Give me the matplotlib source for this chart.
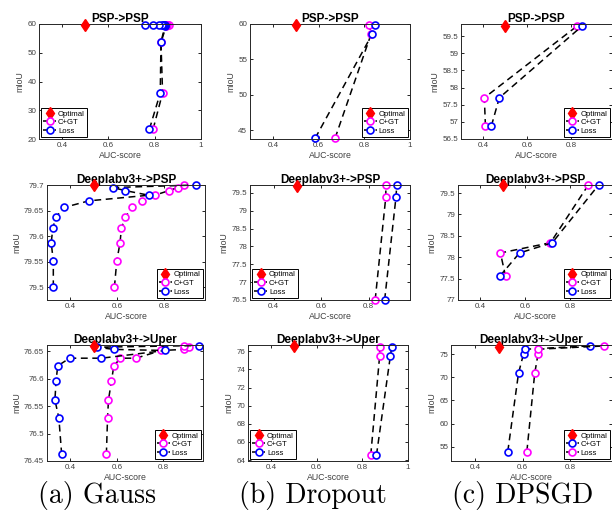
"""
AUC-score vs mIoU trade-off grid (Gauss / Dropout / DPSGD)
"""

import matplotlib.pyplot as plt
from matplotlib.ticker import FormatStrFormatter, MultipleLocator

# ---- data --------------------------------------------------------------
optimal_auc = 0.5

# Gauss, PSP->PSP
g_psp_cgt_auc = [0.793, 0.834, 0.827, 0.850, 0.855, 0.858, 0.860, 0.855, 0.850, 0.848, 0.845]
g_psp_cgt_miou = [23.4, 36.0, 53.6, 59.4, 59.75, 59.8, 59.8, 59.8, 59.8, 59.8, 59.8]
g_psp_loss_auc = [0.777, 0.824, 0.827, 0.844, 0.845, 0.840, 0.836, 0.830, 0.817, 0.793, 0.760]
g_psp_loss_miou = [23.4, 36.0, 53.6, 59.4, 59.75, 59.78, 59.8, 59.8, 59.8, 59.8, 59.8]
g_psp_opt = 59.8

# Gauss, Deeplabv3+->PSP
g_dpsp_cgt_auc = [0.588, 0.598, 0.612, 0.618, 0.635, 0.661, 0.704, 0.760, 0.821, 0.859, 0.885]
g_dpsp_cgt_miou = [79.500, 79.551, 79.587, 79.616, 79.637, 79.656, 79.669, 79.680, 79.689, 79.695, 79.700]
g_dpsp_loss_auc = [0.327, 0.327, 0.318, 0.325, 0.338, 0.372, 0.479, 0.735, 0.635, 0.580, 0.937]
g_dpsp_loss_miou = [79.500, 79.551, 79.587, 79.616, 79.637, 79.656, 79.669, 79.680, 79.689, 79.695, 79.700]
g_dpsp_opt = 79.7

# Gauss, Deeplabv3+->Uper
g_dup_cgt_auc = [0.555, 0.560, 0.564, 0.577, 0.587, 0.615, 0.682, 0.791, 0.890, 0.908, 0.888]
g_dup_cgt_miou = [76.462, 76.528, 76.561, 76.596, 76.623, 76.637, 76.637, 76.651, 76.653, 76.657, 76.660]
g_dup_loss_auc = [0.363, 0.351, 0.334, 0.339, 0.346, 0.397, 0.534, 0.807, 0.588, 0.514, 0.951]
g_dup_loss_miou = [76.462, 76.528, 76.561, 76.596, 76.623, 76.637, 76.637, 76.651, 76.653, 76.657, 76.660]
g_dup_opt = 76.66

# Dropout
d_psp_cgt_auc = [0.672, 0.830, 0.822]
d_psp_cgt_miou = [43.9, 58.6, 59.8]
d_psp_loss_auc = [0.585, 0.835, 0.845]
d_psp_loss_miou = [43.9, 58.6, 59.8]
d_psp_opt = 59.8

d_dpsp_cgt_auc = [0.828, 0.873, 0.873]
d_dpsp_cgt_miou = [76.5, 79.39, 79.71]
d_dpsp_loss_auc = [0.868, 0.916, 0.919]
d_dpsp_loss_miou = [76.5, 79.39, 79.71]
d_dpsp_opt = 79.69

d_dup_cgt_auc = [0.837, 0.876, 0.876]
d_dup_cgt_miou = [64.55, 75.52, 76.48]
d_dup_loss_auc = [0.862, 0.923, 0.929]
d_dup_loss_miou = [64.55, 75.52, 76.48]
d_dup_opt = 76.55

# DPSGD
p_psp_cgt_auc = [0.411, 0.406, 0.827]
p_psp_cgt_miou = [56.88, 57.70, 59.79]
p_psp_loss_auc = [0.438, 0.474, 0.850]
p_psp_loss_miou = [56.88, 57.70, 59.79]
p_psp_opt = 59.79

p_dpsp_cgt_auc = [0.512, 0.489, 0.712, 0.881]
p_dpsp_cgt_miou = [77.55, 78.10, 78.34, 79.695]
p_dpsp_loss_auc = [0.485, 0.574, 0.720, 0.927]
p_dpsp_loss_miou = [77.55, 78.10, 78.34, 79.695]
p_dpsp_opt = 79.695

p_dup_cgt_auc = [0.538, 0.583, 0.604, 0.611, 0.882]
p_dup_cgt_miou = [53.92, 70.88, 75.07, 76.08, 76.8]
p_dup_loss_auc = [0.618, 0.651, 0.665, 0.663, 0.942]
p_dup_loss_miou = [53.92, 70.88, 75.07, 76.08, 76.8]
p_dup_opt = 76.66

captions = ["(a) Gauss", "(b) Dropout", "(c) DPSGD"]

MAGENTA = "#ff00ff"
BLUE = "#0000ff"

# per panel: cgt x/y, loss x/y, optimal y, title, box px (l, r, t, b), xlim, ylim,
#            ytick step, legend loc, cgt colour, loss colour
panels = [
    (g_psp_cgt_auc, g_psp_cgt_miou, g_psp_loss_auc, g_psp_loss_miou, g_psp_opt,
     "PSP->PSP", (39, 201, 24, 139), (0.3, 1.0), (20, 60), 10, "lower left", MAGENTA, BLUE),
    (d_psp_cgt_auc, d_psp_cgt_miou, d_psp_loss_auc, d_psp_loss_miou, d_psp_opt,
     "PSP->PSP", (250, 410, 24, 139), (0.3, 1.0), (43.8, 60), 5, "lower right", MAGENTA, BLUE),
    (p_psp_cgt_auc, p_psp_cgt_miou, p_psp_loss_auc, p_psp_loss_miou, p_psp_opt,
     "PSP->PSP", (461, 612, 24, 139), (0.3, 0.986), (56.5, 59.85), 0.5, "lower right", MAGENTA, BLUE),
    (g_dpsp_cgt_auc, g_dpsp_cgt_miou, g_dpsp_loss_auc, g_dpsp_loss_miou, g_dpsp_opt,
     "Deeplabv3+->PSP", (47, 205, 185, 300), (0.3, 0.975), (79.475, 79.7), 0.05, "lower right", MAGENTA, BLUE),
    (d_dpsp_cgt_auc, d_dpsp_cgt_miou, d_dpsp_loss_auc, d_dpsp_loss_miou, d_dpsp_opt,
     "Deeplabv3+->PSP", (250, 410, 185, 300), (0.3, 0.975), (76.5, 79.72), 0.5, "lower left", MAGENTA, BLUE),
    (p_dpsp_cgt_auc, p_dpsp_cgt_miou, p_dpsp_loss_auc, p_dpsp_loss_miou, p_dpsp_opt,
     "Deeplabv3+->PSP", (458, 612, 185, 300), (0.3, 0.986), (77, 79.69), 0.5, "lower right", MAGENTA, BLUE),
    (g_dup_cgt_auc, g_dup_cgt_miou, g_dup_loss_auc, g_dup_loss_miou, g_dup_opt,
     "Deeplabv3+->Uper", (47, 203, 345, 461), (0.3, 0.97), (76.45, 76.661), 0.05, "lower right", MAGENTA, BLUE),
    (d_dup_cgt_auc, d_dup_cgt_miou, d_dup_loss_auc, d_dup_loss_miou, d_dup_opt,
     "Deeplabv3+->Uper", (248, 408, 345, 461), (0.3, 1.0), (63.9, 76.7), 2, "lower left", MAGENTA, BLUE),
    (p_dup_cgt_auc, p_dup_cgt_miou, p_dup_loss_auc, p_dup_loss_miou, p_dup_opt,
     "Deeplabv3+->Uper", (451, 612, 345, 461), (0.3, 0.975), (51.9, 77.0), 5, "lower right", BLUE, MAGENTA),
]

W, H = 612, 518
fig = plt.figure(figsize=(W / 100, H / 100), dpi=100)
plt.rcParams["font.family"] = ["Liberation Sans", "DejaVu Sans"]

for (cx, cy, lx, ly, opt, title, box, xlim, ylim, ystep, loc, ccol, lcol) in panels:
    l, r, t, b = box
    ax = fig.add_axes([l / W, 1 - b / H, (r - l) / W, (b - t) / H])

    style = dict(linestyle=(0, (4.5, 3)), color="black", linewidth=1.1, marker="o",
                 markersize=5, markeredgewidth=1.2, markerfacecolor="white", clip_on=False)
    (h_opt,) = ax.plot([optimal_auc], [opt], linestyle="none", marker="d", color="red",
                       markersize=6, clip_on=False, zorder=5)
    (h_cgt,) = ax.plot(cx, cy, markeredgecolor=ccol, **style)
    (h_loss,) = ax.plot(lx, ly, markeredgecolor=lcol, **style)

    ax.set_xlim(*xlim)
    ax.set_ylim(*ylim)
    ax.xaxis.set_major_locator(MultipleLocator(0.2))
    ax.yaxis.set_major_locator(MultipleLocator(ystep))
    ax.xaxis.set_major_formatter(FormatStrFormatter("%g"))
    ax.yaxis.set_major_formatter(FormatStrFormatter("%g"))
    ax.tick_params(direction="in", length=2.5, width=0.6, top=True, right=True,
                   labelsize=5.8, labelcolor="#404040", pad=2)
    for sp in ax.spines.values():
        sp.set_linewidth(0.7)
        sp.set_color("#262626")

    ax.set_title(title, fontsize=8.5, fontweight="bold", pad=1.5)
    ax.set_xlabel("AUC-score", fontsize=6.3, color="#404040", labelpad=1.5)
    ax.set_ylabel("mIoU", fontsize=6.3, color="#404040", labelpad=2)

    leg = ax.legend([h_opt, h_cgt, h_loss], ["Optimal", "C+GT", "Loss"], loc=loc,
                    fontsize=5.6, frameon=True, fancybox=False, framealpha=1,
                    edgecolor="black", borderpad=0.25, labelspacing=0.15,
                    handlelength=1.6, handletextpad=0.3, borderaxespad=0.3)
    leg.get_frame().set_linewidth(0.7)

cap_x = [97, 313, 523]
for x, txt in zip(cap_x, captions):
    fig.text(x / W, 1 - 495 / H, txt, family="cmr10", fontsize=20,
             ha="center", va="center")

fig.savefig("out.png", dpi=100)
